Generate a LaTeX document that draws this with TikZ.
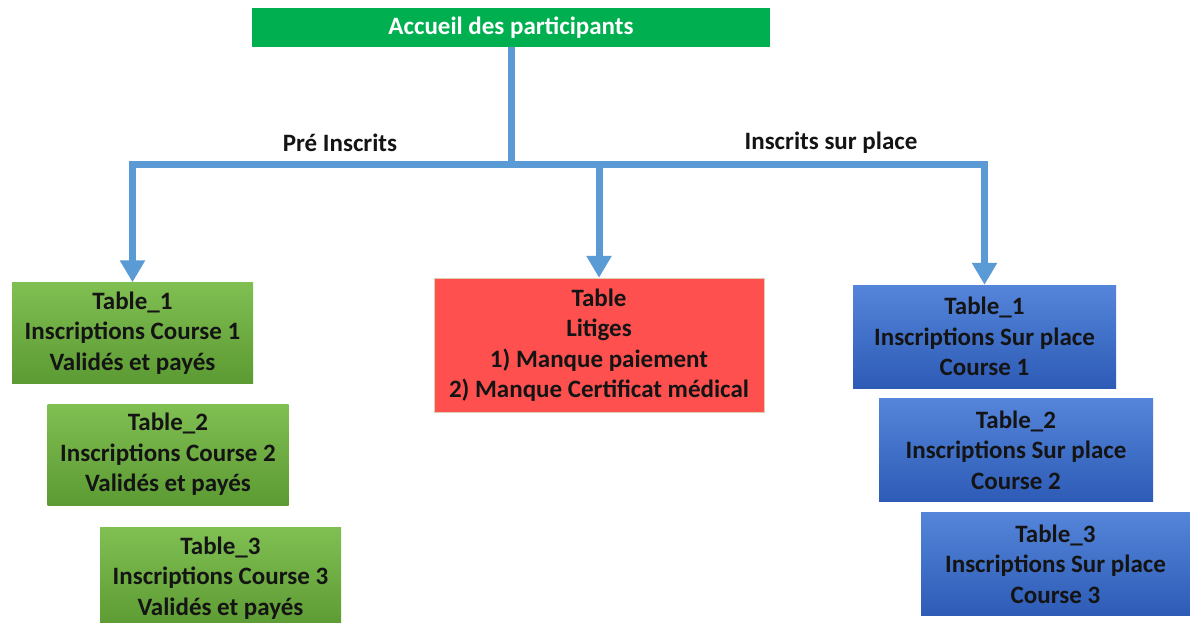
\documentclass[tikz,border=0pt]{standalone}
\usepackage{fontspec}
\setmainfont{Carlito}
\usetikzlibrary{arrows.meta}
\definecolor{accgreen}{HTML}{00B050}
\definecolor{linkblue}{HTML}{5B9BD5}
\definecolor{grtop}{HTML}{80BF52}
\definecolor{grbot}{HTML}{5C9A33}
\definecolor{bltop}{HTML}{5585DA}
\definecolor{blbot}{HTML}{2D5BB6}
\definecolor{litred}{HTML}{FF5050}
\definecolor{txt}{HTML}{141414}

\begin{document}
\begin{tikzpicture}[x=1pt,y=-1pt,
    every node/.style={font=\bfseries\fontsize{25}{30.5}\selectfont, align=center, inner sep=0pt, text=txt},
    greenbox/.style={top color=grtop, bottom color=grbot, minimum width=241pt, minimum height=101pt},
    bluebox/.style={top color=bltop, bottom color=blbot, minimum height=103pt},
    flow/.style={line width=7pt, draw=linkblue, -{Triangle[width=24pt,length=22pt]}},
    stem/.style={line width=7pt, draw=linkblue}]
  \fill[white] (0,0) rectangle (1190,622);
  \useasboundingbox (0,0) rectangle (1190,622);

  \node[fill=accgreen, text=white, minimum width=518pt, minimum height=39pt] (accueil) at (511,27.5) {Accueil des participants};
  \coordinate (split) at (511,164);

  \node (pre) at (340,143) {Pré Inscrits};
  \node (sur) at (831,143) {Inscrits sur place};

  % pre inscrits
  \node[greenbox] (g1) at (132.5,333) {Table\_1\\Inscriptions Course 1\\Validés et payés};
  \node[greenbox] (g2) at (168,454.5) {Table\_2\\Inscriptions Course 2\\Validés et payés};
  \node[greenbox] (g3) at (220.5,578) {Table\_3\\Inscriptions Course 3\\Validés et payés};

  % litiges
  \node[fill=litred, draw=litred!70!green!40, minimum width=330pt, minimum height=134pt] (litige) at (599,345) {Table\\Litiges\\1) Manque paiement\\2) Manque Certificat médical};

  % sur place
  \node[bluebox, minimum width=263pt] (b1) at (984.5,336.5) {Table\_1\\Inscriptions Sur place\\Course 1};
  \node[bluebox, minimum width=274pt] (b2) at (1016,450) {Table\_2\\Inscriptions Sur place\\Course 2};
  \node[bluebox, minimum width=269pt] (b3) at (1055.5,564) {Table\_3\\Inscriptions Sur place\\Course 3};

  \draw[stem] (accueil.south) -- (split);
  \draw[flow] (split) -| (g1.north);
  \draw[flow] (split) -| (litige.north);
  \draw[flow] (split) -| (b1.north);
\end{tikzpicture}
\end{document}
